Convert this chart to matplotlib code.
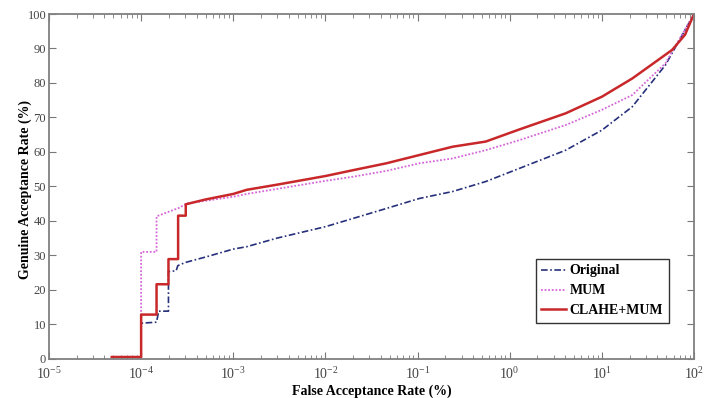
import matplotlib
matplotlib.use("Agg")
from matplotlib import pyplot as plt
from matplotlib.ticker import NullFormatter
import numpy as np

# FAR (%) / GAR (%)
orig_far = [1e-4, 1e-4, 1.47e-4, 1.55e-4, 1.98e-4, 1.98e-4, 2.4e-4, 2.5e-4, 3e-4, 5e-4,
            1e-3, 1.4e-3, 3e-3, 1e-2, 2e-2, 4.6e-2, 0.105, 0.24, 0.55, 1.27, 4.06,
            10, 21.4, 49, 100]
orig_gar = [0, 10.3, 10.6, 13.8, 13.8, 25.3, 25.5, 27.0, 27.9, 29.5,
            31.8, 32.5, 35.0, 38.3, 40.7, 43.6, 46.5, 48.5, 51.4, 55.2, 60.5,
            66.3, 73.1, 85.2, 100]

mum_far = [1e-4, 1e-4, 1.47e-4, 1.47e-4, 2.6e-4, 3.1e-4, 1e-3, 1.4e-3, 1e-2, 2e-2,
           4.6e-2, 0.105, 0.24, 0.55, 1.27, 4.06, 10, 21.4, 49, 100]
mum_gar = [0, 31.0, 31.0, 41.3, 43.8, 45.0, 47.0, 47.8, 51.6, 52.8,
           54.5, 56.7, 58.1, 60.5, 63.4, 67.8, 72.2, 76.5, 85.7, 100]

clahe_far = [4.8e-5, 1e-4, 1e-4, 1.47e-4, 1.47e-4, 1.98e-4, 1.98e-4, 2.52e-4, 2.52e-4,
             3.05e-4, 3.05e-4, 5e-4, 1e-3, 1.4e-3, 3e-3, 1e-2, 2e-2, 4.6e-2, 0.105,
             0.24, 0.55, 1.27, 4.06, 10, 21.4, 40, 58, 80, 100]
clahe_gar = [0.5, 0.5, 12.8, 12.8, 21.6, 21.6, 28.9, 28.9, 41.5,
             41.5, 44.8, 46.2, 47.8, 49.0, 50.5, 53.0, 54.7, 56.7, 59.1,
             61.5, 63.0, 66.5, 71.2, 76.0, 81.3, 86.5, 89.6, 94.0, 100]

series_names = ["Original", "MUM", "CLAHE+MUM"]
x_decades = [1e-5, 1e-4, 1e-3, 1e-2, 1e-1, 1e0, 1e1, 1e2]

fig = plt.figure(figsize=(7.12, 3.98), dpi=100)
ax = fig.add_axes([0.0688, 0.0987, 0.9059, 0.8661])

ax.plot(orig_far, orig_gar, color="#26307a", ls=(0, (4, 1.5, 1, 1.5)), lw=1.2,
        label=series_names[0])
ax.plot(mum_far, mum_gar, color="#d466d8", ls=(0, (1, 1)), lw=1.3, label=series_names[1])
ax.plot(clahe_far, clahe_gar, color="#c8282a", ls="-", lw=1.8, label=series_names[2])

ax.set_xscale("log")
ax.set_xticks(x_decades)
ax.set_xlim(1e-5, 1e2)
ax.set_ylim(0, 100)
ax.set_yticks(np.arange(0, 101, 10))
ax.xaxis.set_minor_formatter(NullFormatter())
ax.tick_params(which="both", direction="in", top=True, right=True, colors="#777777",
               labelcolor="#444444", labelsize=10)
ax.tick_params(axis="x", pad=5)
ax.tick_params(axis="y", labelsize=9, pad=2)
ax.tick_params(which="major", length=5)
ax.tick_params(which="minor", length=3)
for lab in ax.get_xticklabels() + ax.get_yticklabels():
    lab.set_fontfamily("Liberation Serif")
for s in ax.spines.values():
    s.set_color("#808080")
    s.set_linewidth(1.3)

ax.set_xlabel("False Acceptance Rate (%)", fontfamily="Liberation Serif",
              fontweight="bold", fontsize=10, labelpad=2)
ax.set_ylabel("Genuine Acceptance Rate (%)", fontfamily="Liberation Serif",
              fontweight="bold", fontsize=10)
ax.yaxis.set_label_coords(-0.027, 0.49)

leg = ax.legend(loc="lower right", bbox_to_anchor=(0.961, 0.104), fancybox=False,
                prop={"family": "Liberation Serif", "weight": "bold", "size": 10},
                handlelength=1.8, handletextpad=0.25, borderpad=0.4, labelspacing=0.5,
                borderaxespad=0)
leg.get_frame().set_edgecolor("black")
leg.get_frame().set_linewidth(1.0)

plt.savefig("out.png", dpi=100)
